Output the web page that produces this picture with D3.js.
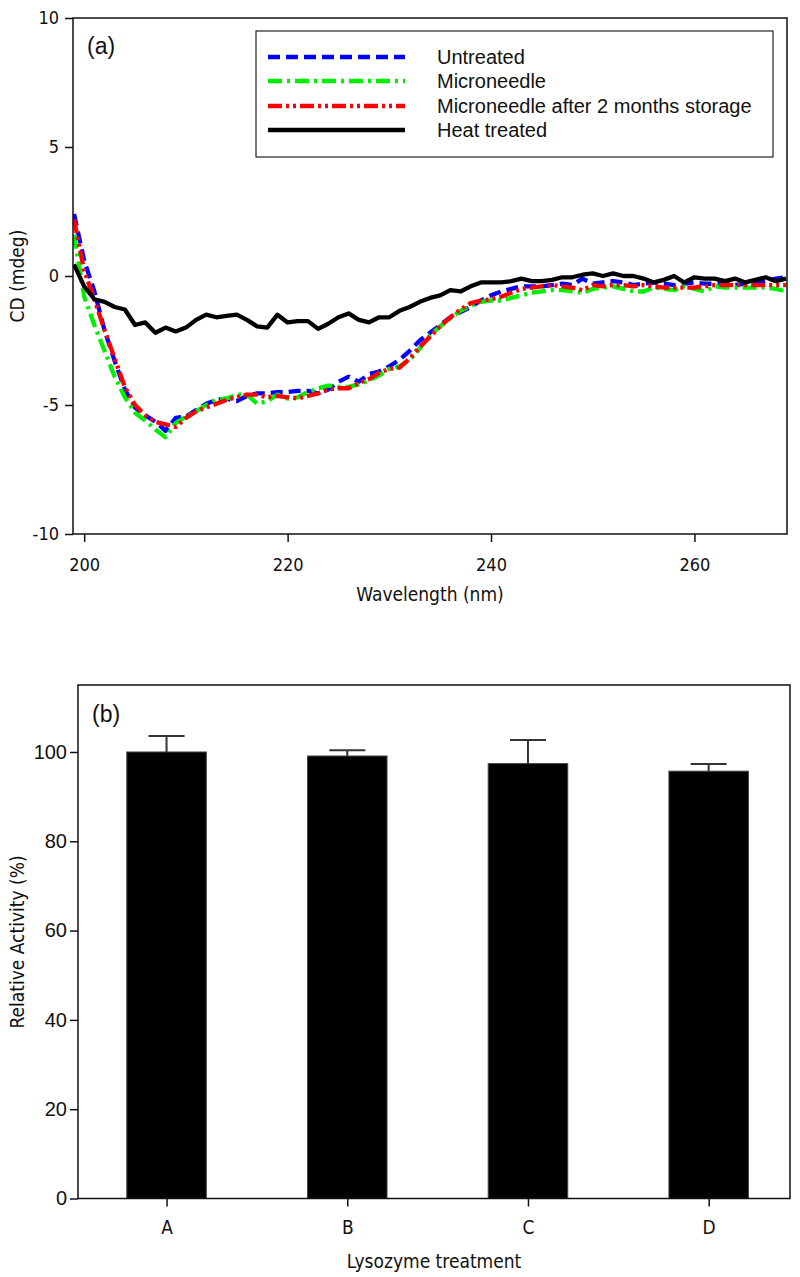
<!DOCTYPE html>
<html><head><meta charset="utf-8">
<script src="https://cdn.jsdelivr.net/npm/d3@7"></script>
<style>
body{margin:0;background:#fff;}
svg{display:block;}
.narrow{font-family:"Liberation Sans Narrow","Arial Narrow","DejaVu Sans Condensed",sans-serif;}
</style></head>
<body>
<svg id="c" width="800" height="1277"></svg>
<script>
// ---------- Data: panel (a) CD spectra ----------
const wavelengths = [199,200,201,202,203,204,205,206,207,208,209,210,211,212,213,214,215,216,217,218,219,220,
 221,222,223,224,225,226,227,228,229,230,231,232,233,234,235,236,237,238,239,240,241,242,243,244,245,246,247,248,249,250,
 251,252,253,254,255,256,257,258,259,260,261,262,263,264,265,266,267,268,269];
const untreated = [2.4,0.6,-0.6,-2.1,-3.3,-4.4,-5.1,-5.4,-5.65,-6.0,-5.5,-5.45,-5.2,-4.95,-4.8,-4.75,-4.85,-4.65,-4.55,-4.55,-4.5,-4.5,
 -4.45,-4.45,-4.55,-4.4,-4.1,-3.9,-4.1,-3.8,-3.7,-3.5,-3.25,-2.9,-2.5,-2.2,-1.9,-1.6,-1.4,-1.2,-0.95,-0.75,-0.6,-0.5,-0.4,-0.4,-0.4,-0.35,-0.3,-0.35,-0.1,-0.3,
 -0.25,-0.2,-0.25,-0.35,-0.3,-0.25,-0.3,-0.35,-0.3,-0.25,-0.3,-0.3,-0.3,-0.35,-0.3,-0.25,-0.2,-0.1,-0.05];
const microneedle = [1.6,-0.8,-1.9,-2.9,-3.9,-4.7,-5.3,-5.6,-5.95,-6.25,-5.7,-5.45,-5.25,-5.0,-4.8,-4.75,-4.6,-4.6,-4.95,-4.85,-4.6,-4.75,
 -4.7,-4.5,-4.35,-4.25,-4.3,-4.3,-4.2,-4.05,-3.85,-3.6,-3.5,-3.25,-2.8,-2.3,-1.95,-1.65,-1.35,-1.15,-1.0,-0.95,-0.95,-0.85,-0.75,-0.65,-0.6,-0.55,-0.55,-0.6,-0.65,-0.5,
 -0.45,-0.4,-0.5,-0.6,-0.6,-0.45,-0.5,-0.55,-0.4,-0.5,-0.6,-0.4,-0.45,-0.45,-0.45,-0.45,-0.45,-0.5,-0.6];
const stored = [2.2,0.2,-0.9,-2.1,-3.2,-4.3,-5.0,-5.4,-5.65,-5.75,-5.85,-5.5,-5.25,-5.1,-4.95,-4.8,-4.7,-4.6,-4.6,-4.7,-4.65,-4.7,
 -4.75,-4.65,-4.55,-4.4,-4.35,-4.35,-4.15,-4.0,-3.75,-3.6,-3.55,-3.2,-2.75,-2.35,-1.95,-1.6,-1.3,-1.05,-0.95,-0.9,-0.8,-0.65,-0.5,-0.45,-0.4,-0.35,-0.4,-0.45,-0.55,-0.35,
 -0.4,-0.35,-0.35,-0.4,-0.35,-0.4,-0.45,-0.45,-0.45,-0.45,-0.4,-0.35,-0.35,-0.35,-0.35,-0.35,-0.35,-0.35,-0.35];
const heatTreated = [0.45,-0.4,-0.9,-1.0,-1.2,-1.3,-1.9,-1.8,-2.2,-2.0,-2.15,-2.0,-1.7,-1.5,-1.6,-1.55,-1.5,-1.7,-1.95,-2.0,-1.5,-1.8,
 -1.75,-1.75,-2.05,-1.85,-1.6,-1.45,-1.7,-1.8,-1.6,-1.6,-1.35,-1.2,-1.0,-0.85,-0.75,-0.55,-0.6,-0.4,-0.25,-0.25,-0.25,-0.2,-0.1,-0.2,-0.2,-0.15,-0.05,-0.05,0.05,0.1,
 0.0,0.1,0.0,0.0,-0.1,-0.25,-0.15,0.0,-0.25,-0.05,-0.1,-0.1,-0.2,-0.1,-0.25,-0.15,-0.05,-0.2,-0.1];
const seriesNames = ["Untreated","Microneedle","Microneedle after 2 months storage","Heat treated"];
const cdYTicks = [-10,-5,0,5,10];
const cdXTicks = [200,220,240,260];

// ---------- Data: panel (b) relative activity ----------
const treatments = ["A","B","C","D"];
const activity = [100.0, 99.1, 97.4, 95.7];
const activityErr = [3.6, 1.3, 5.3, 1.6];
const activityYTicks = [0,20,40,60,80,100];

const svg = d3.select("#c");
const hyphenFmt = d => String(d); // plain hyphen-minus as in the original

// ================= Panel (a) =================
const ax = {l:73, r:787, t:18, b:534};
const xA = d3.scaleLinear().domain([198.9, 269.1]).range([ax.l, ax.r]);
const yA = d3.scaleLinear().domain([-10, 10]).range([ax.b, ax.t]);

svg.append("defs").append("clipPath").attr("id","clipA")
  .append("rect").attr("x",ax.l).attr("y",ax.t).attr("width",ax.r-ax.l).attr("height",ax.b-ax.t);

const styles = [
  {data:untreated, color:"#0000ff", dash:"12,6"},
  {data:microneedle, color:"#00ee00", dash:"14,5,3,5"},
  {data:stored, color:"#ff0000", dash:"14,4,3,4,3,4"},
  {data:heatTreated, color:"#000000", dash:null}
];
const line = d3.line().x((d,i)=>xA(wavelengths[i])).y(d=>yA(d));
const gLines = svg.append("g").attr("clip-path","url(#clipA)");
styles.forEach(s=>{
  gLines.append("path").datum(s.data).attr("d",line)
    .attr("fill","none").attr("stroke",s.color).attr("stroke-width",4.3)
    .attr("stroke-linejoin","round")
    .attr("stroke-dasharray",s.dash);
});

// frame
svg.append("rect").attr("x",ax.l).attr("y",ax.t).attr("width",ax.r-ax.l).attr("height",ax.b-ax.t)
  .attr("fill","none").attr("stroke","#111").attr("stroke-width",1.5);

const yAxA = svg.append("g").attr("transform",`translate(${ax.l},0)`)
  .call(d3.axisLeft(yA).tickValues(cdYTicks).tickSize(8).tickSizeOuter(0).tickFormat(hyphenFmt));
yAxA.select(".domain").remove();
yAxA.selectAll("line").attr("stroke","#111").attr("stroke-width",1.5);
yAxA.selectAll("text").attr("font-family","'DejaVu Sans Condensed','Liberation Sans Narrow',sans-serif")
  .attr("font-size",18).attr("fill","#111").attr("x",-14);

const xAxA = svg.append("g").attr("transform",`translate(0,${ax.b})`)
  .call(d3.axisBottom(xA).tickValues(cdXTicks).tickSize(8).tickSizeOuter(0).tickFormat(hyphenFmt));
xAxA.select(".domain").remove();
xAxA.selectAll("line").attr("stroke","#111").attr("stroke-width",1.5);
xAxA.selectAll("text").attr("font-family","'DejaVu Sans Condensed','Liberation Sans Narrow',sans-serif")
  .attr("font-size",18).attr("fill","#111").attr("y",24);

svg.append("text").attr("class","narrow").attr("x",430).attr("y",601).attr("text-anchor","middle")
  .attr("font-size",19).attr("fill","#111").text("Wavelength (nm)");
svg.append("text").attr("class","narrow").attr("transform","translate(24,276) rotate(-90)")
  .attr("text-anchor","middle").attr("font-size",19).attr("fill","#111").text("CD (mdeg)");
svg.append("text").attr("x",87).attr("y",54).attr("font-family","'Liberation Sans',Arial,sans-serif")
  .attr("font-size",23).attr("fill","#111").text("(a)");

// legend
svg.append("rect").attr("x",256).attr("y",31).attr("width",517).attr("height",126)
  .attr("fill","#fff").attr("stroke","#222").attr("stroke-width",1.2);
const legY = [57,81,106,130];
styles.forEach((s,i)=>{
  svg.append("line").attr("x1",268).attr("x2",405).attr("y1",legY[i]).attr("y2",legY[i])
    .attr("stroke",s.color).attr("stroke-width",4.3).attr("stroke-dasharray",s.dash);
  svg.append("text").attr("x",437).attr("y",legY[i]+7)
    .attr("font-family","'Liberation Sans',Arial,sans-serif").attr("font-size",20).attr("fill","#111")
    .text(seriesNames[i]);
});

// ================= Panel (b) =================
const bx = {l:78, r:790, t:685, b:1198.5};
const xB = d3.scaleLinear().domain([0.51, 4.45]).range([bx.l, bx.r]);
const yB = d3.scaleLinear().domain([0, 115]).range([bx.b, bx.t]);
const barW = xB(1.22) - xB(0.78);

svg.selectAll("rect.bar").data(activity).enter().append("rect").attr("class","bar")
  .attr("x",(d,i)=>xB(i+1)-barW/2).attr("width",barW)
  .attr("y",d=>yB(d)).attr("height",d=>yB(0)-yB(d))
  .attr("fill","#000").attr("stroke","#444").attr("stroke-width",1);

activity.forEach((d,i)=>{
  const cx = xB(i+1);
  svg.append("line").attr("x1",cx).attr("x2",cx).attr("y1",yB(d)).attr("y2",yB(d+activityErr[i]))
    .attr("stroke","#333").attr("stroke-width",2);
  svg.append("line").attr("x1",cx-18).attr("x2",cx+18).attr("y1",yB(d+activityErr[i])).attr("y2",yB(d+activityErr[i]))
    .attr("stroke","#333").attr("stroke-width",2);
});

svg.append("rect").attr("x",bx.l).attr("y",bx.t).attr("width",bx.r-bx.l).attr("height",bx.b-bx.t)
  .attr("fill","none").attr("stroke","#111").attr("stroke-width",1.5);

const yAxB = svg.append("g").attr("transform",`translate(${bx.l},0)`)
  .call(d3.axisLeft(yB).tickValues(activityYTicks).tickSize(8).tickSizeOuter(0));
yAxB.select(".domain").remove();
yAxB.selectAll("line").attr("stroke","#111").attr("stroke-width",1.5);
yAxB.selectAll("text").attr("font-family","'Liberation Sans',Arial,sans-serif")
  .attr("font-size",20).attr("fill","#111").attr("x",-11);

const xAxB = svg.append("g").attr("transform",`translate(0,${bx.b})`)
  .call(d3.axisBottom(xB).tickValues([1,2,3,4]).tickFormat(d=>treatments[d-1]).tickSize(8).tickSizeOuter(0));
xAxB.select(".domain").remove();
xAxB.selectAll("line").attr("stroke","#111").attr("stroke-width",1.5);
xAxB.selectAll("text").attr("class","narrow").attr("font-size",19).attr("fill","#111").attr("y",22);

svg.append("text").attr("class","narrow").attr("x",434).attr("y",1268).attr("text-anchor","middle")
  .attr("font-size",19).attr("fill","#111").text("Lysozyme treatment");
svg.append("text").attr("class","narrow").attr("transform","translate(24,942) rotate(-90)")
  .attr("text-anchor","middle").attr("font-size",19).attr("fill","#111").text("Relative Activity (%)");
svg.append("text").attr("x",92).attr("y",722).attr("font-family","'Liberation Sans',Arial,sans-serif")
  .attr("font-size",23).attr("fill","#111").text("(b)");
</script>
</body></html>
